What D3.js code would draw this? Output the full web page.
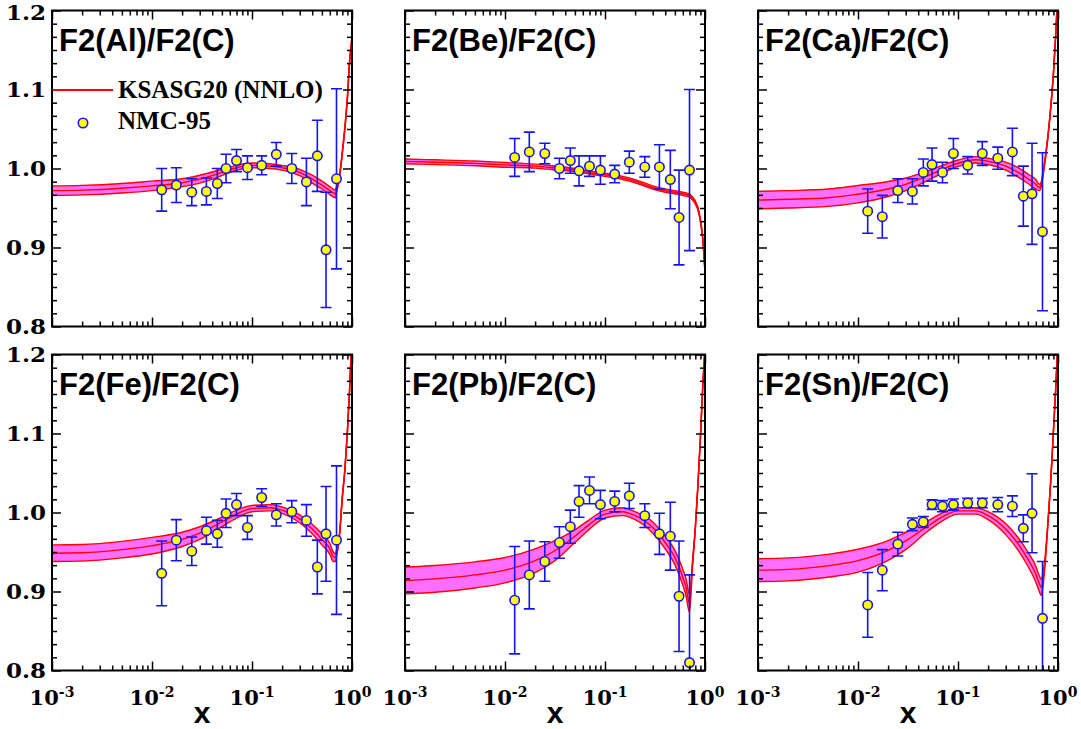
<!DOCTYPE html>
<html>
<head>
<meta charset="utf-8">
<script src="https://cdn.jsdelivr.net/npm/d3@7"></script>
<style>
  body { margin: 0; background: #fff; }
  svg { display: block; }
</style>
</head>
<body>
<svg id="chart" width="1081" height="729"></svg>
<script>
// NMC-95 Bjorken-x bins
const nmcX = [0.0125, 0.0175, 0.025, 0.035, 0.045, 0.055, 0.07, 0.09, 0.125, 0.175, 0.25, 0.35, 0.45, 0.55, 0.7];

// Measured ratios and total uncertainties
const alRatio = [0.973, 0.979, 0.970, 0.971, 0.981, 1.000, 1.010, 1.001, 1.004, 1.018, 1.000, 0.983, 1.016, 0.897, 0.987];
const alErr   = [0.027, 0.022, 0.017, 0.017, 0.019, 0.018, 0.014, 0.015, 0.012, 0.015, 0.019, 0.030, 0.045, 0.073, 0.114];
const beRatio = [1.014, 1.021, 1.019, 1.000, 1.010, 0.997, 1.003, 0.998, 0.993, 1.008, 1.002, 1.002, 0.986, 0.938, 0.998];
const beErr   = [0.024, 0.025, 0.013, 0.013, 0.016, 0.019, 0.013, 0.018, 0.011, 0.014, 0.013, 0.028, 0.037, 0.060, 0.102];
const caRatio = [0.946, 0.939, 0.972, 0.971, 0.995, 1.005, 0.995, 1.019, 1.004, 1.019, 1.013, 1.021, 0.965, 0.968, 0.920];
const caErr   = [0.028, 0.027, 0.015, 0.016, 0.017, 0.021, 0.013, 0.019, 0.011, 0.015, 0.014, 0.030, 0.038, 0.064, 0.100];
const feRatio = [0.923, 0.965, 0.951, 0.977, 0.973, 0.999, 1.010, 0.981, 1.019, 0.997, 1.001, 0.990, 0.931, 0.973, 0.965];
const feErr   = [0.041, 0.026, 0.018, 0.017, 0.017, 0.018, 0.014, 0.015, 0.011, 0.014, 0.014, 0.020, 0.034, 0.060, 0.094];
const pbRatio = [0.889, 0.921, 0.938, 0.962, 0.982, 1.014, 1.028, 1.010, 1.014, 1.021, 0.996, 0.973, 0.970, 0.894, 0.810];
const pbErr   = [0.068, 0.043, 0.025, 0.020, 0.021, 0.020, 0.017, 0.018, 0.013, 0.016, 0.015, 0.026, 0.043, 0.070, 0.111];
const snRatio = [0.883, 0.927, 0.960, 0.985, 0.988, 1.010, 1.008, 1.010, 1.012, 1.012, 1.010, 1.008, 0.980, 0.999, 0.866];
const snErr   = [0.041, 0.026, 0.015, 0.008, 0.007, 0.006, 0.007, 0.007, 0.006, 0.006, 0.009, 0.013, 0.017, 0.050, 0.072];

// KSASG20 (NNLO) prediction: central value and half-width of the uncertainty band
const curveX = [0.001, 0.002, 0.005, 0.01, 0.02, 0.03, 0.05, 0.07, 0.1, 0.15, 0.2, 0.3, 0.4, 0.5, 0.6, 0.65, 0.68, 0.7, 0.75, 0.8, 0.85, 0.9, 0.95, 1.0];
const alFit  = [0.972, 0.9726, 0.975, 0.978, 0.982, 0.9865, 0.995, 1.001, 1.004, 1.003, 1.001, 0.995, 0.9865, 0.979, 0.972, 0.969, 0.968, 0.973, 0.99, 1.02, 1.052, 1.09, 1.138, 1.165];
const alBand = [0.006, 0.006, 0.006, 0.006, 0.005, 0.005, 0.004, 0.003, 0.003, 0.003, 0.003, 0.004, 0.005, 0.005, 0.005, 0.005, 0.005, 0.004, 0.002, 0.002, 0.002, 0.002, 0.002, 0.002];
const beFit  = [1.009, 1.008, 1.0065, 1.0046, 1.003, 1.001, 0.998, 0.995, 0.992, 0.988, 0.984, 0.976, 0.972, 0.970, 0.968, 0.967, 0.9665, 0.966, 0.962, 0.957, 0.949, 0.934, 0.911, 0.869];
const beBand = [0.003, 0.003, 0.003, 0.003, 0.0025, 0.0025, 0.002, 0.002, 0.002, 0.002, 0.002, 0.002, 0.002, 0.002, 0.002, 0.002, 0.002, 0.002, 0.002, 0.002, 0.002, 0.002, 0.002, 0.002];
const caFit  = [0.960, 0.961, 0.963, 0.9675, 0.974, 0.980, 0.991, 0.999, 1.0067, 1.011, 1.009, 1.003, 0.995, 0.987, 0.980, 0.976, 0.980, 0.989, 1.015, 1.045, 1.08, 1.12, 1.17, 1.23];
const caBand = [0.011, 0.011, 0.011, 0.011, 0.0095, 0.008, 0.006, 0.005, 0.004, 0.004, 0.004, 0.005, 0.006, 0.006, 0.006, 0.004, 0.003, 0.003, 0.002, 0.002, 0.002, 0.002, 0.002, 0.002];
const feFit  = [0.9485, 0.949, 0.953, 0.958, 0.966, 0.974, 0.988, 0.998, 1.005, 1.006, 1.003, 0.992, 0.979, 0.966, 0.954, 0.944, 0.943, 0.948, 0.972, 1.019, 1.055, 1.103, 1.16, 1.23];
const feBand = [0.0105, 0.0105, 0.0105, 0.0105, 0.009, 0.008, 0.006, 0.005, 0.004, 0.004, 0.004, 0.005, 0.006, 0.007, 0.007, 0.006, 0.005, 0.004, 0.002, 0.002, 0.002, 0.002, 0.002, 0.002];
const pbFit  = [0.914, 0.916, 0.921, 0.927, 0.939, 0.950, 0.970, 0.985, 0.998, 1.001, 0.996, 0.981, 0.962, 0.943, 0.918, 0.904, 0.890, 0.885, 0.935, 0.98, 1.035, 1.095, 1.16, 1.21];
const pbBand = [0.017, 0.017, 0.0165, 0.016, 0.015, 0.013, 0.008, 0.006, 0.005, 0.005, 0.005, 0.007, 0.008, 0.009, 0.010, 0.011, 0.011, 0.011, 0.004, 0.002, 0.002, 0.002, 0.002, 0.002];
const snFit  = [0.927, 0.928, 0.9325, 0.939, 0.952, 0.964, 0.983, 0.9945, 1.002, 1.002, 0.996, 0.979, 0.960, 0.941, 0.922, 0.910, 0.905, 0.911, 0.945, 0.994, 1.044, 1.103, 1.158, 1.22];
const snBand = [0.0145, 0.0145, 0.0145, 0.0145, 0.0125, 0.011, 0.0065, 0.005, 0.004, 0.004, 0.005, 0.007, 0.008, 0.009, 0.010, 0.010, 0.010, 0.009, 0.004, 0.002, 0.002, 0.002, 0.002, 0.002];

// Axis ticks and labels
const yMajorTicks = [0.8, 0.9, 1.0, 1.1, 1.2];
const yTickLabels = ["0.8", "0.9", "1.0", "1.1", "1.2"];
const xMajorTicks = [0.001, 0.01, 0.1, 1];
const xTickExponents = ["-3", "-2", "-1", "0"];

const titles = ["F2(Al)/F2(C)", "F2(Be)/F2(C)", "F2(Ca)/F2(C)", "F2(Fe)/F2(C)", "F2(Pb)/F2(C)", "F2(Sn)/F2(C)"];
const ratios = [alRatio, beRatio, caRatio, feRatio, pbRatio, snRatio];
const errors = [alErr, beErr, caErr, feErr, pbErr, snErr];
const fits   = [alFit, beFit, caFit, feFit, pbFit, snFit];
const bands  = [alBand, beBand, caBand, feBand, pbBand, snBand];

// Layout
const colLeft = [52, 405, 758];
const rowTop = [10.5, 354.5];
const panelW = 300, panelH = 316;

const svg = d3.select("#chart");
const defs = svg.append("defs");

// minor ticks
const yMinorTicks = d3.range(0, 25).map(i => 0.8 + i / 60).filter((v, i) => i % 6 !== 0);
const xMinorTicks = [];
[0.001, 0.01, 0.1].forEach(d => { for (let k = 2; k <= 9; k++) xMinorTicks.push(d * k); });

const bandColor = "#ff6eff";
const lineColor = "#ff0000";
const pointStroke = "#1414ee";
const serifLabel = "'DejaVu Serif', serif";

titles.forEach((title, p) => {
  const col = p % 3, row = Math.floor(p / 3);
  const x0 = colLeft[col], y0 = rowTop[row];
  const x = d3.scaleLog().domain([1e-3, 1]).range([x0, x0 + panelW]);
  const y = d3.scaleLinear().domain([0.8, 1.2]).range([y0 + panelH, y0]);

  const g = svg.append("g");
  const clipId = "clip" + p;
  defs.append("clipPath").attr("id", clipId)
    .append("rect").attr("x", x0).attr("y", y0).attr("width", panelW).attr("height", panelH);

  const plot = g.append("g").attr("clip-path", `url(#${clipId})`);

  // prediction band with its upper, central and lower curves
  const pts = curveX.map((cx, i) => ({ x: cx, c: fits[p][i], b: bands[p][i] }));
  const area = d3.area().curve(d3.curveMonotoneX)
    .x(d => x(d.x)).y0(d => y(d.c - d.b)).y1(d => y(d.c + d.b));
  plot.append("path").datum(pts).attr("d", area).attr("fill", bandColor).attr("stroke", "none");
  [-1, 0, 1].forEach(s => {
    const line = d3.line().curve(d3.curveMonotoneX).x(d => x(d.x)).y(d => y(d.c + s * d.b));
    plot.append("path").datum(pts).attr("d", line)
      .attr("fill", "none").attr("stroke", lineColor).attr("stroke-width", 1.4);
  });

  // data with error bars
  const data = nmcX.map((vx, i) => ({ x: vx, r: ratios[p][i], e: errors[p][i] }));
  const eb = plot.append("g").attr("stroke", pointStroke).attr("stroke-width", 1.6);
  data.forEach(d => {
    const px = x(d.x);
    eb.append("line").attr("x1", px).attr("x2", px)
      .attr("y1", y(d.r - d.e)).attr("y2", y(d.r + d.e));
    [d.r - d.e, d.r + d.e].forEach(v => {
      if (v >= 0.8 && v <= 1.2) {
        eb.append("line").attr("x1", px - 5.5).attr("x2", px + 5.5)
          .attr("y1", y(v)).attr("y2", y(v));
      }
    });
  });
  plot.append("g").selectAll("circle").data(data).join("circle")
    .attr("cx", d => x(d.x)).attr("cy", d => y(d.r)).attr("r", 4.7)
    .attr("fill", "#ffff00").attr("stroke", pointStroke).attr("stroke-width", 1.6);

  // ticks on all four sides, pointing inward
  const axes = [
    [d3.axisBottom(x), `translate(0,${y0 + panelH})`, xMajorTicks, xMinorTicks],
    [d3.axisTop(x), `translate(0,${y0})`, xMajorTicks, xMinorTicks],
    [d3.axisLeft(y), `translate(${x0},0)`, yMajorTicks, yMinorTicks],
    [d3.axisRight(y), `translate(${x0 + panelW},0)`, yMajorTicks, yMinorTicks]
  ];
  axes.forEach(([ax, tr, major, minor]) => {
    [[major, 9], [minor, 5]].forEach(([vals, len]) => {
      const a = g.append("g").attr("transform", tr)
        .call(ax.tickValues(vals).tickSize(-len).tickFormat(""));
      a.select(".domain").remove();
      a.selectAll(".tick line").attr("stroke", "#000").attr("stroke-width", 1.5);
    });
  });

  g.append("rect").attr("x", x0).attr("y", y0).attr("width", panelW).attr("height", panelH)
    .attr("fill", "none").attr("stroke", "#000").attr("stroke-width", 2);

  // panel title
  g.append("text").attr("x", x0 + 7).attr("y", y0 + 40)
    .attr("font-family", "'Liberation Sans', Arial, sans-serif").attr("font-weight", "bold")
    .attr("font-size", 31).attr("fill", "#000").text(title);

  // y tick labels on the left column
  if (col === 0) {
    yMajorTicks.forEach((v, i) => {
      g.append("text").attr("x", x0 - 6).attr("y", Math.max(y(v) + 7.5, 20))
        .attr("text-anchor", "end")
        .attr("textLength", 40).attr("lengthAdjust", "spacingAndGlyphs")
        .attr("font-family", serifLabel).attr("font-weight", "bold")
        .attr("font-size", 21).attr("fill", "#000").text(yTickLabels[i]);
    });
  }

  // x tick labels and axis title on the bottom row
  if (row === 1) {
    xMajorTicks.forEach((v, i) => {
      const t = g.append("text").attr("x", x(v)).attr("y", 705)
        .attr("text-anchor", "middle")
        .attr("font-family", serifLabel).attr("font-weight", "bold")
        .attr("font-size", 21).attr("fill", "#000");
      t.append("tspan").text("10");
      t.append("tspan").attr("dy", -8).attr("font-size", 14).text(xTickExponents[i]);
    });
    g.append("text").attr("x", x0 + panelW / 2).attr("y", 723)
      .attr("text-anchor", "middle")
      .attr("font-family", "'Liberation Sans', Arial, sans-serif").attr("font-weight", "bold")
      .attr("font-size", 30).attr("fill", "#000").text("x");
  }

  // legend in the first panel
  if (p === 0) {
    g.append("line").attr("x1", x0 + 1).attr("x2", x0 + 61).attr("y1", 90).attr("y2", 90)
      .attr("stroke", lineColor).attr("stroke-width", 2);
    g.append("text").attr("x", 118).attr("y", 98)
      .attr("font-family", "'Liberation Serif', 'Times New Roman', serif").attr("font-weight", "bold")
      .attr("font-size", 25).attr("fill", "#000").text("KSASG20 (NNLO)");
    g.append("circle").attr("cx", 83).attr("cy", 123).attr("r", 4.7)
      .attr("fill", "#ffff00").attr("stroke", pointStroke).attr("stroke-width", 1.6);
    g.append("text").attr("x", 118).attr("y", 128.5)
      .attr("font-family", "'Liberation Serif', 'Times New Roman', serif").attr("font-weight", "bold")
      .attr("font-size", 25).attr("fill", "#000").text("NMC-95");
  }
});
</script>
</body>
</html>
